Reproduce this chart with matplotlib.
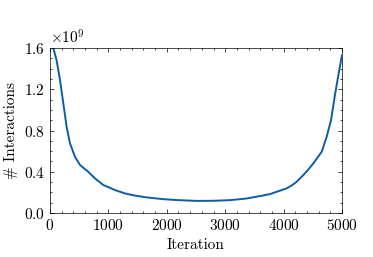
import numpy as np
import matplotlib
matplotlib.use("Agg")
from matplotlib import pyplot as plt
from matplotlib.ticker import MultipleLocator

# values (interactions, x1e9)
iterations = [57, 114, 171, 228, 285, 342, 428, 514, 590, 656, 770, 913, 1113, 1284,
              1450, 1650, 1935, 2200, 2515, 2800, 3080, 3350, 3600, 3767, 3900, 4053,
              4140, 4224, 4338, 4420, 4509, 4652, 4737, 4811, 4880, 4950, 5000]
interactions = [1.60, 1.48, 1.29, 1.064, 0.837, 0.676, 0.546, 0.466, 0.43, 0.40, 0.336,
                0.272, 0.223, 0.19, 0.17, 0.152, 0.135, 0.125, 0.118, 0.119, 0.125,
                0.14, 0.165, 0.184, 0.21, 0.24, 0.268, 0.304, 0.369, 0.42, 0.482, 0.595,
                0.74, 0.90, 1.15, 1.38, 1.53]

plt.rcParams.update({
    "font.family": "serif",
    "font.serif": ["cmr10"],
    "mathtext.fontset": "cm",
    "axes.formatter.use_mathtext": True,
    "font.size": 11,
    "xtick.direction": "in",
    "ytick.direction": "in",
    "xtick.top": True,
    "ytick.right": True,
    "xtick.minor.visible": True,
    "ytick.minor.visible": True,
    "xtick.major.size": 3,
    "ytick.major.size": 3,
    "xtick.minor.size": 1.5,
    "ytick.minor.size": 1.5,
    "axes.linewidth": 0.5,
    "xtick.major.width": 0.5,
    "ytick.major.width": 0.5,
    "xtick.minor.width": 0.5,
    "ytick.minor.width": 0.5,
})

fig = plt.figure(figsize=(3.73, 2.57), dpi=100)
ax = fig.add_axes([0.134, 0.171, 0.783, 0.642])

ax.plot(iterations, np.array(interactions) * 1e9, color="#0C5DA5", linewidth=1.4)

ax.set_xlim(0, 5000)
ax.set_ylim(0, 1.6e9)
ax.xaxis.set_major_locator(MultipleLocator(1000))
ax.xaxis.set_minor_locator(MultipleLocator(200))
ax.yaxis.set_major_locator(MultipleLocator(0.4e9))
ax.yaxis.set_minor_locator(MultipleLocator(0.1e9))
ax.ticklabel_format(axis="y", style="sci", scilimits=(0, 0))
ax.set_xlabel("Iteration")
ax.set_ylabel("# Interactions")

fig.savefig("out.png", dpi=100)
